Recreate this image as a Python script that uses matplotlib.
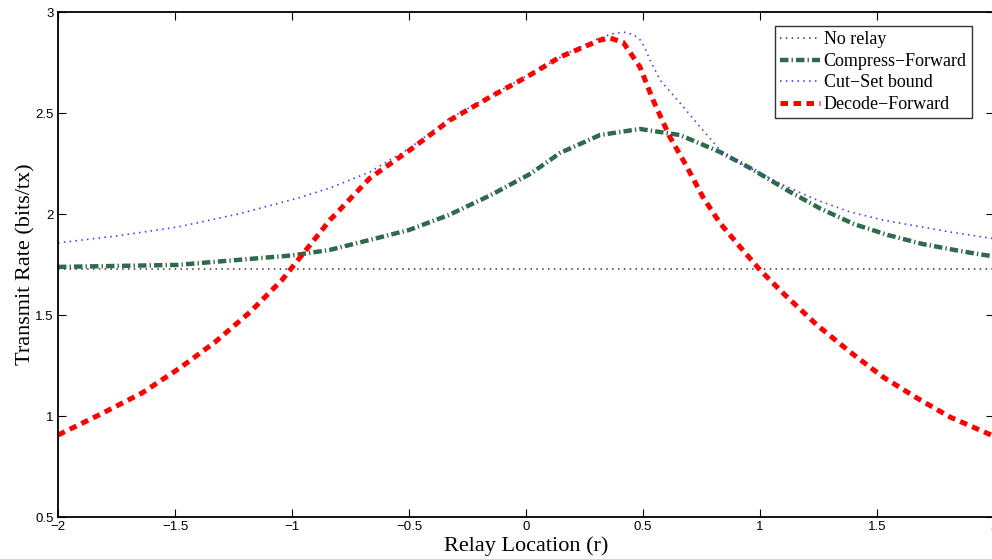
import numpy as np
import matplotlib

matplotlib.use("Agg")
import matplotlib.pyplot as plt

# values
no_relay_x = [-2.0, 2.0]
no_relay_y = [1.728, 1.728]

cf_x = [-2.0, -1.49, -1.0, -0.84, -0.67, -0.5, -0.33, -0.15, 0.02, 0.145, 0.316,
        0.487, 0.658, 0.829, 0.957, 1.128, 1.256, 1.402, 1.547, 1.697, 1.855,
        1.932, 2.0]
cf_y = [1.738, 1.748, 1.795, 1.822, 1.871, 1.921, 1.995, 2.094, 2.20, 2.302, 2.391,
        2.421, 2.391, 2.307, 2.228, 2.110, 2.028, 1.950, 1.896, 1.851, 1.817,
        1.802, 1.79]

cs_x = [-2.0, -1.74, -1.487, -1.23, -0.974, -0.838, -0.667, -0.496, -0.33, -0.15,
        0.02, 0.188, 0.316, 0.37, 0.42, 0.46, 0.49, 0.509, 0.53, 0.573,
        0.658, 0.744, 0.829, 0.915, 1.0, 1.098, 1.244, 1.385, 1.526, 1.671,
        1.812, 2.0]
cs_y = [1.857, 1.893, 1.936, 2.0, 2.079, 2.129, 2.208, 2.327, 2.47, 2.585,
        2.695, 2.802, 2.872, 2.892, 2.90, 2.888, 2.86, 2.82, 2.762, 2.663,
        2.55, 2.431, 2.317, 2.252, 2.203, 2.144, 2.069, 2.01, 1.97, 1.94,
        1.911, 1.878]

df_x = [-2.0, -1.808, -1.641, -1.479, -1.329, -1.179, -1.043, -0.838, -0.667,
        -0.496, -0.325, -0.154, 0.017, 0.145, 0.316, 0.359, 0.415, 0.487, 0.543,
        0.615, 0.688, 0.756, 0.829, 0.915, 1.0, 1.098, 1.244, 1.385, 1.526,
        1.671, 1.812, 2.0]
df_y = [0.906, 1.015, 1.114, 1.238, 1.366, 1.515, 1.673, 1.97, 2.178,
        2.317, 2.465, 2.579, 2.688, 2.777, 2.861, 2.871, 2.85, 2.728, 2.564,
        2.381, 2.233, 2.084, 1.955, 1.837, 1.723, 1.609, 1.45, 1.317, 1.193,
        1.089, 0.995, 0.9]

fig = plt.figure(figsize=(9.92, 5.59), dpi=100)
ax = fig.add_axes([0.0585, 0.0751, 0.9435, 0.9034])

ax.plot(no_relay_x, no_relay_y, color="#444444", lw=1.2, label="No relay",
        dashes=(0.9, 2.6))
ax.plot(cf_x, cf_y, color="#2e6b4a", lw=3.2, label="Compress\u2212Forward",
        dashes=(1.9, 0.7, 0.3, 0.7))
ax.plot(cs_x, cs_y, color="#3a3aff", lw=1.2, label="Cut\u2212Set bound",
        dashes=(0.9, 2.6))
ax.plot(df_x, df_y, color="#ff0000", lw=3.6, label="Decode\u2212Forward",
        dashes=(1.5, 1.1))

ax.set_xlim(-2, 2)
ax.set_ylim(0.5, 3)
ax.set_xticks([-2, -1.5, -1, -0.5, 0, 0.5, 1, 1.5, 2])
ax.set_xticklabels(["\u22122", "\u22121.5", "\u22121", "\u22120.5", "0", "0.5", "1", "1.5", "2"])
ax.set_yticks([0.5, 1, 1.5, 2, 2.5, 3])
ax.set_yticklabels(["0.5", "1", "1.5", "2", "2.5", "3"])
ax.tick_params(direction="in", length=6, width=0.8, top=True, right=True,
               labelsize=9.5, pad=3)
for lab in ax.get_xticklabels() + ax.get_yticklabels():
    lab.set_family("Liberation Sans")
for sp in ax.spines.values():
    sp.set_linewidth(1.3)

ax.set_xlabel("Relay Location (r)", family="Liberation Serif", fontsize=16, labelpad=2.5)
ax.set_ylabel("Transmit Rate (bits/tx)", family="Liberation Serif", fontsize=16, labelpad=0)

leg = ax.legend(loc="upper right", bbox_to_anchor=(0.98, 0.9535), bbox_transform=fig.transFigure,
                prop={"family": "Liberation Serif", "size": 13}, frameon=True, fancybox=False,
                edgecolor="black", borderpad=0.3, labelspacing=0.25, handlelength=2.2,
                handletextpad=0.2, borderaxespad=0)
leg.get_frame().set_linewidth(1.0)

fig.savefig("out.png", dpi=100)
